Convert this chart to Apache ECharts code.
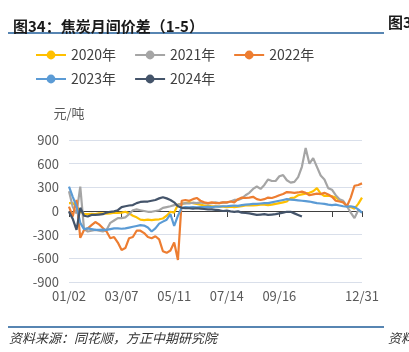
<!DOCTYPE html>
<html>
<head>
<meta charset="utf-8">
<script src="https://cdn.jsdelivr.net/npm/echarts@6/dist/echarts.min.js"></script>
<style>
html,body{margin:0;padding:0;background:#fff;}
#c{width:409px;height:352px;}
</style>
</head>
<body>
<div id="c"></div>
<script>
var categories = ['01/02','01/07','01/11','01/16','01/20','01/25','01/29','02/03','02/08','02/12','02/17','02/21','02/26','03/02','03/07',
'03/12','03/16','03/21','03/26','03/30','04/04','04/09','04/13','04/18','04/22','04/27','05/02','05/06','05/11',
'05/16','05/20','05/25','05/29','06/03','06/07','06/12','06/17','06/21','06/26','06/30','07/05','07/09','07/14',
'07/19','07/23','07/28','08/01','08/06','08/10','08/15','08/20','08/24','08/29','09/02','09/07','09/11','09/16',
'09/21','09/25','09/30','10/04','10/09','10/13','10/18','10/22','10/27','10/31','11/05','11/09','11/14','11/18',
'11/23','11/29','12/04','12/09','12/15','12/20','12/26','12/31'];

var seriesNames = ['2020年','2021年','2022年','2023年','2024年'];

var y2020 = [100,100,60,-10,-35,-40,-35,-40,-30,-30,-35,-30,-20,-25,-20,
-10,-30,-60,-80,-110,-115,-110,-115,-110,-105,-95,-60,-10,-20,
80,90,100,110,100,90,80,70,70,60,60,55,55,50,
55,50,55,60,70,75,70,75,80,80,75,80,90,100,
110,120,165,170,200,210,220,230,250,290,220,190,195,185,
170,140,110,60,50,30,90,170];

var y2021 = [250,50,-30,310,-230,-260,-250,-240,-250,-260,-240,-150,-120,-90,-90,
-80,-40,10,20,10,0,-10,-10,0,10,40,50,60,75,
80,90,100,95,105,100,110,100,95,100,110,100,110,105,
120,140,140,160,200,230,280,310,280,330,400,380,380,440,
455,390,360,370,430,560,800,600,670,560,450,400,290,270,
200,150,130,60,-20,-90,10,-20];

var y2022 = [55,-70,140,-340,-240,-220,-180,-140,-170,-215,-260,-345,-330,-400,-495,
-470,-345,-330,-250,-250,-280,-330,-345,-320,-360,-510,-530,-500,-400,
-620,130,140,130,150,165,130,110,100,110,100,100,110,110,
120,110,150,170,165,170,180,150,140,150,170,165,180,200,
215,240,235,230,235,245,230,200,210,220,215,230,210,180,
130,120,110,60,170,320,330,350];

var y2023 = [310,180,60,-150,-230,-220,-230,-240,-240,-235,-240,-230,-220,-220,-225,
-220,-210,-200,-190,-180,-185,-210,-260,-220,-160,-135,-110,-40,-190,
-60,40,50,45,50,45,50,50,55,50,55,55,60,60,
65,70,65,75,80,85,90,90,95,100,100,110,120,130,
140,150,145,140,135,130,125,120,110,100,95,90,80,75,
80,70,60,55,60,50,20,-20];

var y2024 = [-10,-100,-240,40,-60,-70,-50,-50,-45,-40,-20,-10,-5,10,50,
60,70,75,100,115,120,120,130,140,160,175,160,140,110,
60,40,35,35,30,35,30,25,20,20,15,10,0,5,
-5,-10,-5,-20,-25,-30,-40,-50,-45,-40,-50,-45,-40,-30,
-20,-10,-10,-30,-50,-70];

var yTicks = {min:-900, max:900, step:300};
var colors = ['#FFC000','#A5A5A5','#ED7D31','#5B9BD5','#44546A'];
var allData = [y2020,y2021,y2022,y2023,y2024];

var font = '"Noto Sans CJK SC", "Noto Sans", sans-serif';
var chart = echarts.init(document.getElementById('c'), null, {renderer:'canvas'});

var series = seriesNames.map(function(n, k){
  return {
    name: n, type:'line', data: allData[k], symbol:'circle', symbolSize:10, showSymbol:false,
    lineStyle:{width:2.2, color:colors[k]}, itemStyle:{color:colors[k]},
    emphasis:{disabled:true}, animation:false
  };
});

function isTick(i){ return i % 14 === 0 || i === categories.length - 1; }
function isLabel(i){ return (i % 14 === 0 && i !== 70) || i === categories.length - 1; }

var legendCommon = {
  orient:'horizontal', padding:0, itemWidth:30, itemHeight:11, itemGap:18,
  textStyle:{fontSize:14, color:'#404040', fontFamily:font},
  selectedMode:false
};

chart.setOption({
  animation:false,
  color: colors,
  textStyle:{fontFamily:font},
  title:{
    text:'图34：焦炭月间价差（1-5）', left:8, top:14,
    textStyle:{fontSize:15, fontWeight:'bold', color:'#1a1a1a', fontFamily:font}
  },
  legend:[
    Object.assign({}, legendCommon, {left:35, top:48, data:seriesNames.slice(0,3)}),
    Object.assign({}, legendCommon, {left:35, top:72, data:seriesNames.slice(3)})
  ],
  grid:{left:69, right:47, top:140, bottom:70, containLabel:false},
  xAxis:{
    type:'category', data:categories, boundaryGap:false,
    axisLine:{lineStyle:{color:'#404040', width:1}},
    axisTick:{show:true, length:6, interval:function(i){return isTick(i);}, lineStyle:{color:'#404040'}},
    axisLabel:{interval:function(i){return isLabel(i);}, color:'#595959', fontSize:13, margin:8, fontFamily:font},
    splitLine:{show:false}
  },
  yAxis:{
    type:'value', min:yTicks.min, max:yTicks.max, interval:yTicks.step,
    name:'元/吨', nameLocation:'end', nameGap:20,
    nameTextStyle:{color:'#595959', fontSize:13, fontFamily:font, align:'center'},
    axisLine:{show:false}, axisTick:{show:false},
    axisLabel:{color:'#595959', fontSize:13, margin:10, fontFamily:font},
    splitLine:{lineStyle:{color:'#D9DFEA', width:1}}
  },
  graphic:[
    {type:'line', shape:{x1:8,y1:33,x2:384,y2:33}, style:{stroke:'#1F5C99', lineWidth:1.5}},
    {type:'line', shape:{x1:8,y1:327,x2:384,y2:327}, style:{stroke:'#1F5C99', lineWidth:1.5}},
    {type:'text', left:388, top:15, style:{text:'图35：', font:'bold 15px '+font, fill:'#1a1a1a'}},
    {type:'text', left:9, top:332, style:{text:'资料来源：同花顺，方正中期研究院', font:'italic 13px '+font, fill:'#333'}},
    {type:'text', left:388, top:332, style:{text:'资料来源', font:'italic 13px '+font, fill:'#333'}}
  ],
  series: series
});
</script>
</body>
</html>
